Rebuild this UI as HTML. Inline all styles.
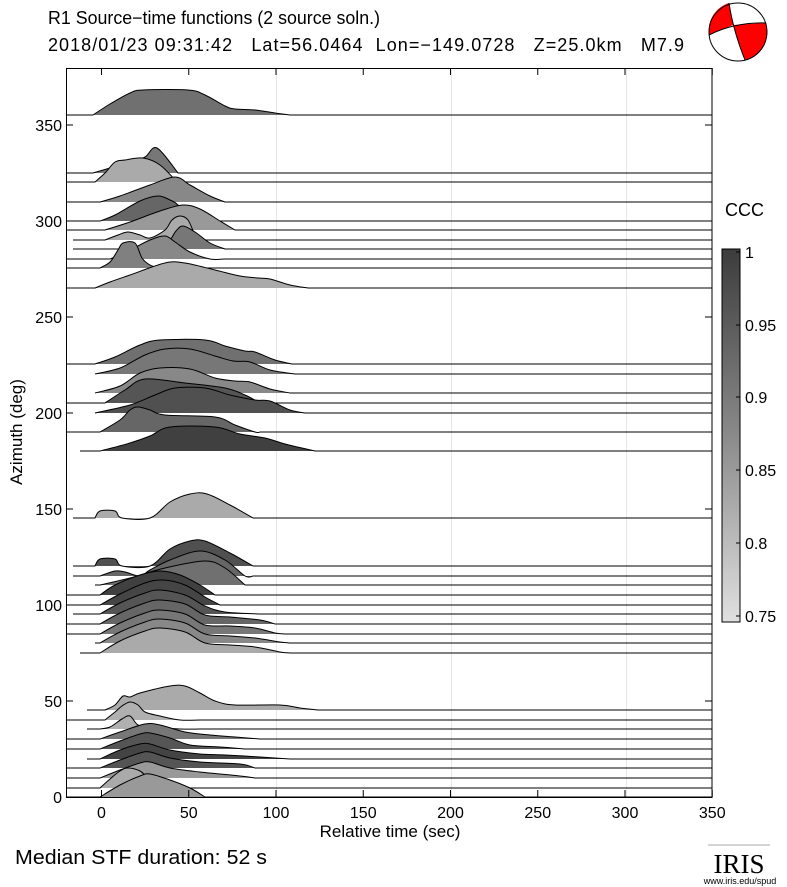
<!DOCTYPE html>
<html><head><meta charset="utf-8"><style>
body{margin:0;background:#fff;}
svg{display:block;font-family:"Liberation Sans",sans-serif;}
</style></head><body>
<svg id="s" width="787" height="887" viewBox="0 0 787 887" xmlns="http://www.w3.org/2000/svg">
<defs><linearGradient id="cb" x1="0" y1="0" x2="0" y2="1">
<stop offset="0" stop-color="#3c3c3c"/><stop offset="0.5" stop-color="#8a8a8a"/><stop offset="1" stop-color="#e0e0e0"/></linearGradient></defs>
<text x="48" y="24" font-size="18" textLength="332" lengthAdjust="spacingAndGlyphs">R1 Source−time functions (2 source soln.)</text>
<text x="48" y="51" font-size="18" textLength="636" lengthAdjust="spacing" xml:space="preserve">2018/01/23 09:31:42   Lat=56.0464  Lon=−149.0728   Z=25.0km   M7.9</text>
<g stroke="#e6e6e6" stroke-width="1"><line x1="276.5" y1="68" x2="276.5" y2="797"/><line x1="451.5" y1="68" x2="451.5" y2="797"/><line x1="626.5" y1="68" x2="626.5" y2="797"/></g>
<g id="tr"></g>
<rect x="66.5" y="68.5" width="645.5" height="729" fill="none" stroke="#000"/>
<g id="ax" stroke="#000"></g>
<g id="lb" font-size="16"></g>
<text x="390" y="837" font-size="17" text-anchor="middle">Relative time (sec)</text>
<text transform="translate(22,432) rotate(-90)" font-size="17" text-anchor="middle">Azimuth (deg)</text>
<text x="15" y="864" font-size="20" textLength="252" lengthAdjust="spacingAndGlyphs">Median STF duration: 52 s</text>
<text x="725" y="216" font-size="18">CCC</text>
<rect x="722" y="249" width="18" height="373" fill="url(#cb)" stroke="#000"/>
<g font-size="16"><text x="745" y="258">1</text><text x="745" y="331">0.95</text><text x="745" y="403">0.9</text><text x="745" y="476">0.85</text><text x="745" y="549">0.8</text><text x="745" y="622">0.75</text></g>
<g stroke="#000"><line x1="740" y1="252" x2="736" y2="252"/><line x1="740" y1="325" x2="736" y2="325"/><line x1="740" y1="397" x2="736" y2="397"/><line x1="740" y1="470" x2="736" y2="470"/><line x1="740" y1="543" x2="736" y2="543"/><line x1="740" y1="616" x2="736" y2="616"/></g>
<circle cx="738" cy="32" r="29" fill="#fff"/>
<path d="M729,3 L733,25 L709,35 A29,29 0 0 1 729,3 Z" fill="#f00"/>
<path d="M733,25 L766,23 A29,29 0 0 1 745,60 Z" fill="#f00"/>
<path d="M729,3 Q733,30 745,60 M709,35 Q735,22 766,23" fill="none" stroke="#000"/>
<circle cx="738" cy="32" r="29" fill="none" stroke="#000"/>
<line x1="708" y1="845" x2="770" y2="845" stroke="#aaa"/>
<text x="739" y="873" font-family="Liberation Serif,serif" font-size="27" text-anchor="middle">IRIS</text>
<text x="740" y="884" font-size="9" text-anchor="middle">www.iris.edu/spud</text>
</svg>
<script>
var T=[
[115,66,"#707070",[[93,115],[110,104],[130,93],[143,90],[188,90],[205,95],[225,106],[235,109],[255,110],[275,113],[290,115]]],
[173,66,"#777",[[93,173],[110,168],[130,162],[145,157],[157,148],[178,173]]],
[182,66,"#aaa",[[95,182],[105,173],[115,162],[125,160],[143,158],[160,165],[177,182]]],
[202,66,"#888",[[100,202],[120,196],[150,185],[175,177],[190,185],[210,196],[225,202]]],
[221,66,"#666",[[100,221],[115,215],[140,201],[158,196],[170,200],[178,205],[190,221]]],
[230,66,"#999",[[105,230],[130,222],[160,211],[183,205],[200,209],[220,221],[235,230]]],
[240,73,"#aaa",[[105,240],[118,235],[128,232],[140,235],[150,238],[165,230],[172,220],[180,216],[188,220],[195,235],[200,240]]],
[249,73,"#777",[[160,249],[170,240],[176,231],[183,226],[195,232],[210,243],[225,249]]],
[259,66,"#888",[[110,259],[130,250],[150,240],[165,236],[175,242],[190,252],[210,259],[225,259]]],
[268,66,"#808080",[[100,268],[110,262],[118,250],[123,243],[135,243],[142,258],[150,265],[160,268]]],
[288,66,"#aaa",[[95,288],[110,282],[130,275],[165,263],[185,263],[215,270],[240,276],[258,278],[270,279],[290,285],[308,288]]],
[364,66,"#707070",[[95,364],[115,357],[140,345],[160,340],[205,340],[225,346],[245,351],[255,352],[275,360],[292,364]]],
[374,95,"#777",[[95,374],[120,368],[145,355],[165,349],[190,349],[215,356],[233,361],[250,362],[270,370],[295,374]]],
[393,95,"#888",[[95,393],[120,386],[140,373],[160,368],[190,369],[215,378],[235,381],[250,382],[270,389],[290,393]]],
[403,66,"#555",[[105,403],[125,390],[145,379],[185,383],[225,388],[245,395],[260,403]]],
[413,95,"#505050",[[95,413],[130,405],[155,395],[175,388],[205,388],[230,395],[255,400],[270,401],[290,410],[305,413]]],
[432,66,"#666",[[100,432],[120,420],[130,410],[138,407],[150,410],[165,415],[215,417],[235,425],[255,432],[260,432]]],
[451,80,"#404040",[[100,451],[130,443],[150,436],[170,427],[215,427],[240,434],[265,438],[285,444],[315,451]]],
[518,73,"#aaa",[[95,518],[100,511],[115,511],[122,518],[150,518],[170,502],[190,494],[207,494],[230,505],[253,518]]],
[566,73,"#505050",[[95,566],[100,559],[115,559],[122,566],[150,566],[170,549],[190,541],[205,541],[230,553],[253,566]]],
[576,73,"#666",[[100,576],[115,571],[125,572],[140,576],[150,570],[170,560],[200,551],[225,560],[245,576],[253,576]]],
[585,95,"#707070",[[100,585],[130,578],[165,568],[205,561],[225,568],[245,585]]],
[595,66,"#404040",[[100,595],[115,585],[140,575],[160,571],[180,575],[200,585],[215,595]]],
[605,66,"#454545",[[100,605],[120,594],[145,583],[163,580],[185,585],[205,597],[220,605]]],
[614,73,"#555",[[100,614],[120,603],[145,593],[160,590],[185,595],[205,606],[225,612],[260,614]]],
[624,66,"#666",[[100,624],[120,613],[145,603],[160,600],[185,604],[205,615],[230,617],[260,620],[275,624]]],
[634,66,"#777",[[100,634],[120,623],[145,613],[160,610],[185,614],[205,625],[230,626],[255,628],[275,633],[285,634]]],
[643,95,"#888",[[100,643],[120,632],[145,622],[160,619],[185,623],[205,634],[230,636],[255,638],[280,642],[290,643]]],
[653,80,"#aaa",[[100,653],[120,641],[145,631],[160,628],[185,632],[205,643],[230,645],[255,647],[280,652],[290,653]]],
[710,87,"#aaa",[[105,710],[115,705],[123,696],[130,697],[140,693],[170,686],[185,686],[200,693],[215,701],[235,705],[280,705],[300,708],[318,710]]],
[720,66,"#b0b0b0",[[105,720],[115,712],[122,706],[130,702],[138,705],[145,712],[160,716],[180,720],[200,720]]],
[729,87,"#b0b0b0",[[100,729],[110,727],[122,719],[130,716],[138,725],[150,727],[180,729],[205,729]]],
[739,66,"#777",[[100,739],[120,732],[145,724],[160,725],[185,732],[210,735],[235,737],[260,739]]],
[749,66,"#555",[[100,749],[120,741],[140,734],[150,733],[170,738],[190,745],[220,747],[245,749]]],
[759,87,"#444",[[100,759],[120,750],[140,744],[150,744],[170,750],[200,754],[225,755],[260,757],[290,759]]],
[768,66,"#555",[[100,768],[120,760],[140,753],[150,752],[170,758],[200,762],[240,764],[255,768]]],
[778,66,"#999",[[100,778],[120,770],[140,763],[150,762],[170,768],[200,772],[240,776],[255,778]]],
[788,66,"#aaa",[[100,788],[110,779],[120,771],[128,768],[140,771],[148,778],[160,785],[170,788]]],
[797,66,"#999",[[100,797],[120,785],[140,776],[150,774],[170,780],[190,788],[205,797]]]
];
function cr(p){var d="";for(var i=0;i<p.length-1;i++){var a=p[i-1]||p[i],b=p[i],c=p[i+1],e=p[i+2]||c;
d+=" C"+(b[0]+(c[0]-a[0])/6)+","+(b[1]+(c[1]-a[1])/6)+" "+(c[0]-(e[0]-b[0])/6)+","+(c[1]-(e[1]-b[1])/6)+" "+c[0]+","+c[1];}return d;}
var h="";T.forEach(function(t){var b=t[0],p=t[3],c=cr(p);
h+='<path d="M'+p[0][0]+','+b+c+' Z" fill="'+t[2]+'"/>';
h+='<path d="M'+t[1]+','+b+' L'+p[0][0]+','+p[0][1]+c+' L712,'+b+'" fill="none" stroke="#000" stroke-width="1"/>';});
document.getElementById("tr").innerHTML=h;
var ax="",lb="";
[0,50,100,150,200,250,300,350].forEach(function(v){var x=101.5+v*1.745;
ax+='<line x1="'+x+'" y1="68" x2="'+x+'" y2="75"/><line x1="'+x+'" y1="797" x2="'+x+'" y2="790"/>';
lb+='<text x="'+x+'" y="818" text-anchor="middle">'+v+'</text>';});
[0,50,100,150,200,250,300,350].forEach(function(v){var y=797-v*1.92;
ax+='<line x1="66" y1="'+y+'" x2="73" y2="'+y+'"/><line x1="712" y1="'+y+'" x2="705" y2="'+y+'"/>';
lb+='<text x="62" y="'+(y+6)+'" text-anchor="end">'+v+'</text>';});
document.getElementById("ax").innerHTML=ax;document.getElementById("lb").innerHTML=lb;
</script>
</body></html>
